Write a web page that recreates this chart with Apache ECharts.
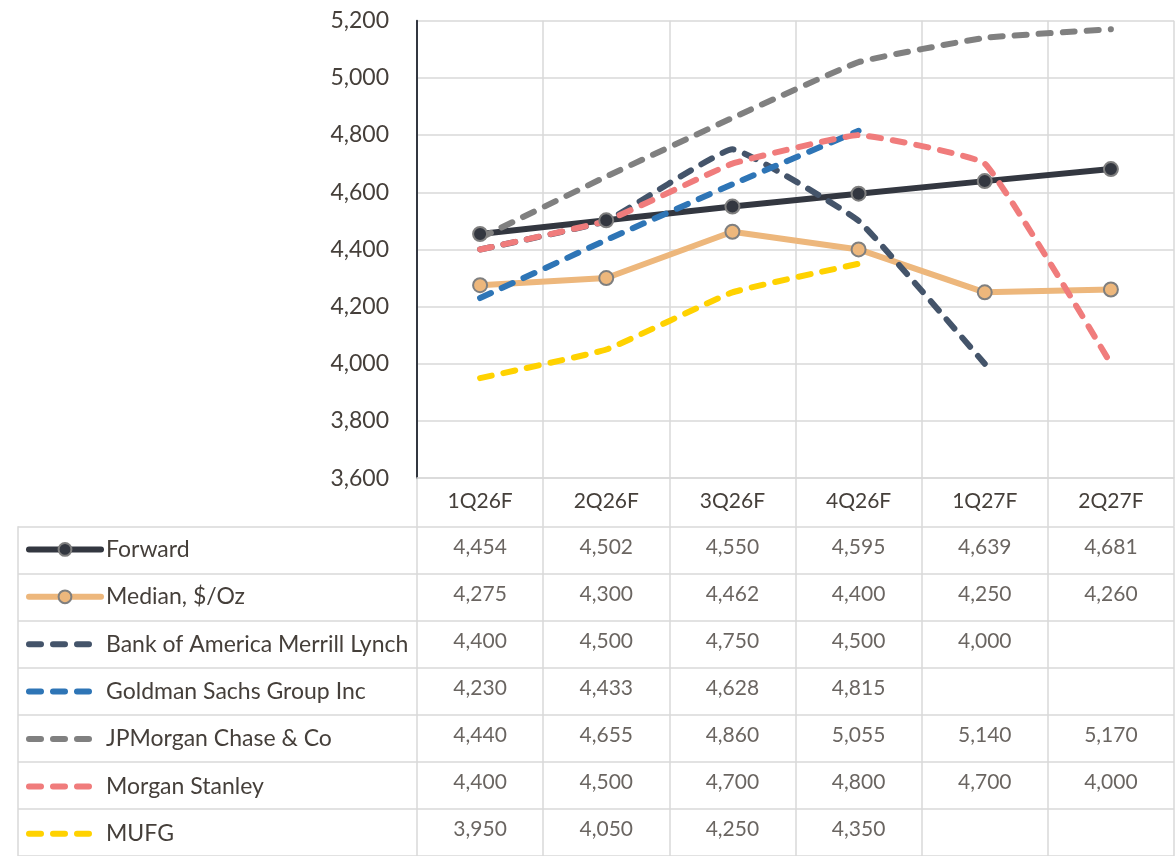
<!DOCTYPE html>
<html>
<head>
<meta charset="utf-8">
<script src="https://cdn.jsdelivr.net/npm/echarts@6/dist/echarts.min.js"></script>
<style>
  html, body { margin: 0; padding: 0; background: #fff; }
  #chart { width: 1176px; height: 856px; }
</style>
</head>
<body>
<div id="chart"></div>
<script>
// Quarterly gold price forecasts, $/oz
const quarters = ['1Q26F', '2Q26F', '3Q26F', '4Q26F', '1Q27F', '2Q27F'];
const yTicks = { min: 3600, max: 5200, step: 200 };

const seriesNames = [
  'Forward',
  'Median, $/Oz',
  'Bank of America Merrill Lynch',
  'Goldman Sachs Group Inc',
  'JPMorgan Chase & Co',
  'Morgan Stanley',
  'MUFG'
];

const forward = [4454, 4502, 4550, 4595, 4639, 4681];
const median  = [4275, 4300, 4462, 4400, 4250, 4260];
const bofa    = [4400, 4500, 4750, 4500, 4000, null];
const goldman = [4230, 4433, 4628, 4815, null, null];
const jpm     = [4440, 4655, 4860, 5055, 5140, 5170];
const ms      = [4400, 4500, 4700, 4800, 4700, 4000];
const mufg    = [3950, 4050, 4250, 4350, null, null];

const values = [forward, median, bofa, goldman, jpm, ms, mufg];
const colors = ['#333740', '#EDB77C', '#44546A', '#2E75B6', '#808080', '#F07C7C', '#FFD200'];

const textColor = '#453f3a';
const gridColor = '#d9d9d9';
const mainFont = 'Lato, "Open Sans", sans-serif';

// layout of the plot and the data table beneath it
const plotLeft = 417, plotTop = 20.7, plotWidth = 757, plotHeight = 457.5;
const tableTop = 526.7, rowH = 47.4;
const tableHeight = rowH * seriesNames.length;
const legendIconH = 16;
const legendFont = 23;

function lineSeries(i) {
  const solid = i < 2;
  const s = {
    name: seriesNames[i],
    type: 'line',
    xAxisIndex: 0,
    yAxisIndex: 0,
    data: values[i],
    color: colors[i],
    connectNulls: false,
    lineStyle: {
      color: colors[i],
      width: 6,
      type: solid ? 'solid' : [12, 12],
      cap: 'round',
      join: 'round'
    },
    emphasis: { disabled: true },
    z: 3
  };
  if (solid) {
    s.symbol = 'circle';
    s.symbolSize = 14;
    s.itemStyle = { color: colors[i], borderColor: '#7f7f7f', borderWidth: 2 };
  } else {
    s.symbol = 'none';
    s.smooth = 0.1;
  }
  return s;
}

// data-table cells: [quarter, series name, value]
const cells = [];
values.forEach((arr, r) => {
  arr.forEach((v, c) => {
    if (v != null) cells.push([quarters[c], seriesNames[r], v]);
  });
});

// dashed series get a plain line key without a marker
const legendData = seriesNames.map((n, i) =>
  i < 2 ? { name: n } : { name: n, itemStyle: { opacity: 0 } }
);

const option = {
  animation: false,
  backgroundColor: '#ffffff',
  legend: {
    orient: 'vertical',
    left: 26,
    top: tableTop + rowH / 2 - legendFont / 2 - 1,
    height: tableHeight + 40,
    padding: 0,
    itemWidth: 72,
    itemHeight: legendIconH,
    itemGap: rowH - legendFont,
    selectedMode: false,
    data: legendData,
    lineStyle: { width: 6 },
    textStyle: { color: textColor, fontFamily: mainFont, fontSize: legendFont }
  },
  grid: [
    { left: plotLeft, top: plotTop, width: plotWidth, height: plotHeight },
    { left: 18, top: tableTop, width: plotLeft - 18, height: tableHeight },
    { left: plotLeft, top: tableTop, width: plotWidth, height: tableHeight }
  ],
  xAxis: [
    {
      type: 'category',
      gridIndex: 0,
      data: quarters,
      boundaryGap: true,
      axisLine: { show: true, lineStyle: { color: gridColor, width: 1.5 } },
      axisTick: { show: true, alignWithLabel: false, length: tableTop - plotTop - plotHeight, lineStyle: { color: gridColor, width: 1.5 } },
      axisLabel: { color: textColor, fontFamily: mainFont, fontSize: 21, margin: 13 },
      splitLine: { show: true, lineStyle: { color: gridColor, width: 1.5 } }
    },
    { type: 'value', gridIndex: 1, show: false, min: 0, max: 1 },
    {
      type: 'category',
      gridIndex: 2,
      data: quarters,
      boundaryGap: true,
      axisLine: { show: false },
      axisTick: { show: false },
      axisLabel: { show: false },
      splitLine: { show: true, lineStyle: { color: gridColor, width: 1.5 } }
    }
  ],
  yAxis: [
    {
      type: 'value',
      gridIndex: 0,
      min: yTicks.min,
      max: yTicks.max,
      interval: yTicks.step,
      axisLine: { show: true, lineStyle: { color: '#333740', width: 2 } },
      axisTick: { show: false },
      axisLabel: {
        color: textColor, fontFamily: mainFont, fontSize: 23, margin: 28,
        formatter: v => v.toLocaleString('en-US')
      },
      splitLine: { show: true, lineStyle: { color: gridColor, width: 1.5 } }
    },
    {
      type: 'category',
      gridIndex: 1,
      data: seriesNames,
      inverse: true,
      boundaryGap: true,
      axisLine: { show: true, lineStyle: { color: gridColor, width: 1.5 } },
      axisTick: { show: false },
      axisLabel: { show: false },
      splitLine: { show: true, lineStyle: { color: gridColor, width: 1.5 } }
    },
    {
      type: 'category',
      gridIndex: 2,
      data: seriesNames,
      inverse: true,
      boundaryGap: true,
      axisLine: { show: false },
      axisTick: { show: false },
      axisLabel: { show: false },
      splitLine: { show: true, lineStyle: { color: gridColor, width: 1.5 } }
    }
  ],
  series: values.map((_, i) => lineSeries(i)).concat([
    {
      name: 'table',
      type: 'scatter',
      xAxisIndex: 2,
      yAxisIndex: 2,
      data: cells,
      symbolSize: 1,
      itemStyle: { color: 'rgba(0,0,0,0)' },
      silent: true,
      label: {
        show: true,
        position: 'inside',
        offset: [0, -3],
        color: textColor,
        fontFamily: mainFont,
        fontSize: 21,
        formatter: p => p.value[2].toLocaleString('en-US')
      }
    }
  ])
};

const chart = echarts.init(document.getElementById('chart'), null, { renderer: 'canvas' });
chart.setOption(option);
</script>
</body>
</html>
